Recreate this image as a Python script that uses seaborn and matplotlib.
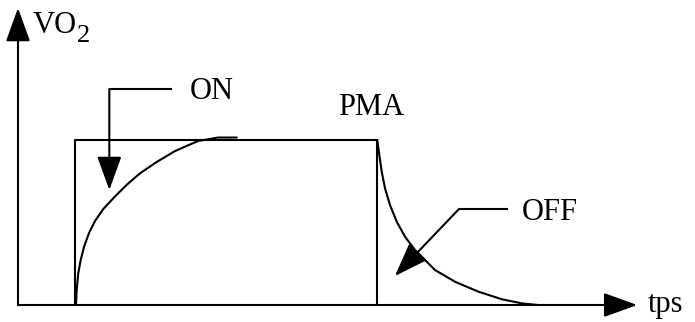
import matplotlib
matplotlib.use("Agg")
import matplotlib.pyplot as plt
import seaborn as sns
import pandas as pd

sns.set_theme(style="white")
plt.rcParams["font.family"] = ["Liberation Serif", "DejaVu Serif"]
plt.rcParams["text.color"] = "black"

# exercise bout (arbitrary time units, VO2 relative to PMA)
t_on = 0.95
t_off = 5.98
vo2_pma = 1.0

# ON kinetics
on_t = [0.967, 0.978, 1.005, 1.045, 1.10, 1.183, 1.283, 1.422, 1.617, 1.817,
        2.033, 2.312, 2.617, 3.00, 3.333, 3.645]
on_vo2 = [0.0, 0.091, 0.194, 0.273, 0.352, 0.436, 0.509, 0.582, 0.658, 0.730,
          0.798, 0.867, 0.933, 0.994, 1.015, 1.015]

# OFF kinetics
off_t = [5.988, 6.022, 6.062, 6.117, 6.20, 6.312, 6.45, 6.617, 6.95, 7.283,
         7.672, 8.062, 8.395, 8.667]
off_vo2 = [1.0, 0.909, 0.808, 0.707, 0.606, 0.505, 0.414, 0.333, 0.212, 0.141,
           0.081, 0.035, 0.010, 0.0]

on_df = pd.DataFrame({"t": on_t, "vo2": on_vo2})
off_df = pd.DataFrame({"t": off_t, "vo2": off_vo2})
rect_df = pd.DataFrame({"t": [t_on, t_on, t_off, t_off],
                        "vo2": [0, vo2_pma, vo2_pma, 0]})

fig = plt.figure(figsize=(6.95, 3.22), dpi=100)
ax = fig.add_axes([0, 0, 1, 1])
ax.set_xlim(-0.3, 11.283)
ax.set_ylim(-0.103, 1.8485)
ax.axis("off")

lw = 1.5
sns.lineplot(data=rect_df, x="t", y="vo2", sort=False, estimator=None,
             color="black", lw=lw, ax=ax)
for d in (on_df, off_df):
    sns.lineplot(data=d, x="t", y="vo2", sort=False, estimator=None,
                 color="black", lw=1.5, solid_joinstyle="round", ax=ax)

head = dict(arrowstyle="-|>,head_length=1.05,head_width=0.38", mutation_scale=20,
            color="black", lw=lw, shrinkA=0, shrinkB=0)

# axes with arrows
ax.annotate("", xy=(0, 1.80), xytext=(0, 0), arrowprops=head)
ax.annotate("", xy=(10.32, 0), xytext=(0, 0), arrowprops=head)

# ON pointer
ax.plot([2.567, 1.522], [1.309, 1.309], color="black", lw=lw, solid_capstyle="butt")
ax.annotate("", xy=(1.522, 0.697), xytext=(1.522, 1.309), arrowprops=head)

# OFF pointer
ax.plot([8.167, 7.35], [0.582, 0.582], color="black", lw=lw, solid_capstyle="butt")
ax.annotate("", xy=(6.283, 0.176), xytext=(7.35, 0.582), arrowprops=head)

fs = 22
ax.text(0.25, 1.648, "VO", fontsize=22, ha="left", va="baseline")
ax.text(0.98, 1.594, "2", fontsize=19, ha="left", va="baseline")
ax.text(2.867, 1.248, "ON", fontsize=fs, ha="left", va="baseline")
ax.text(5.333, 1.152, "PMA", fontsize=fs, ha="left", va="baseline")
ax.text(8.40, 0.515, "OFF", fontsize=fs, ha="left", va="baseline")
ax.text(10.5, -0.042, "tps", fontsize=fs, ha="left", va="baseline")

fig.savefig("out.png", dpi=100)
plt.close(fig)
